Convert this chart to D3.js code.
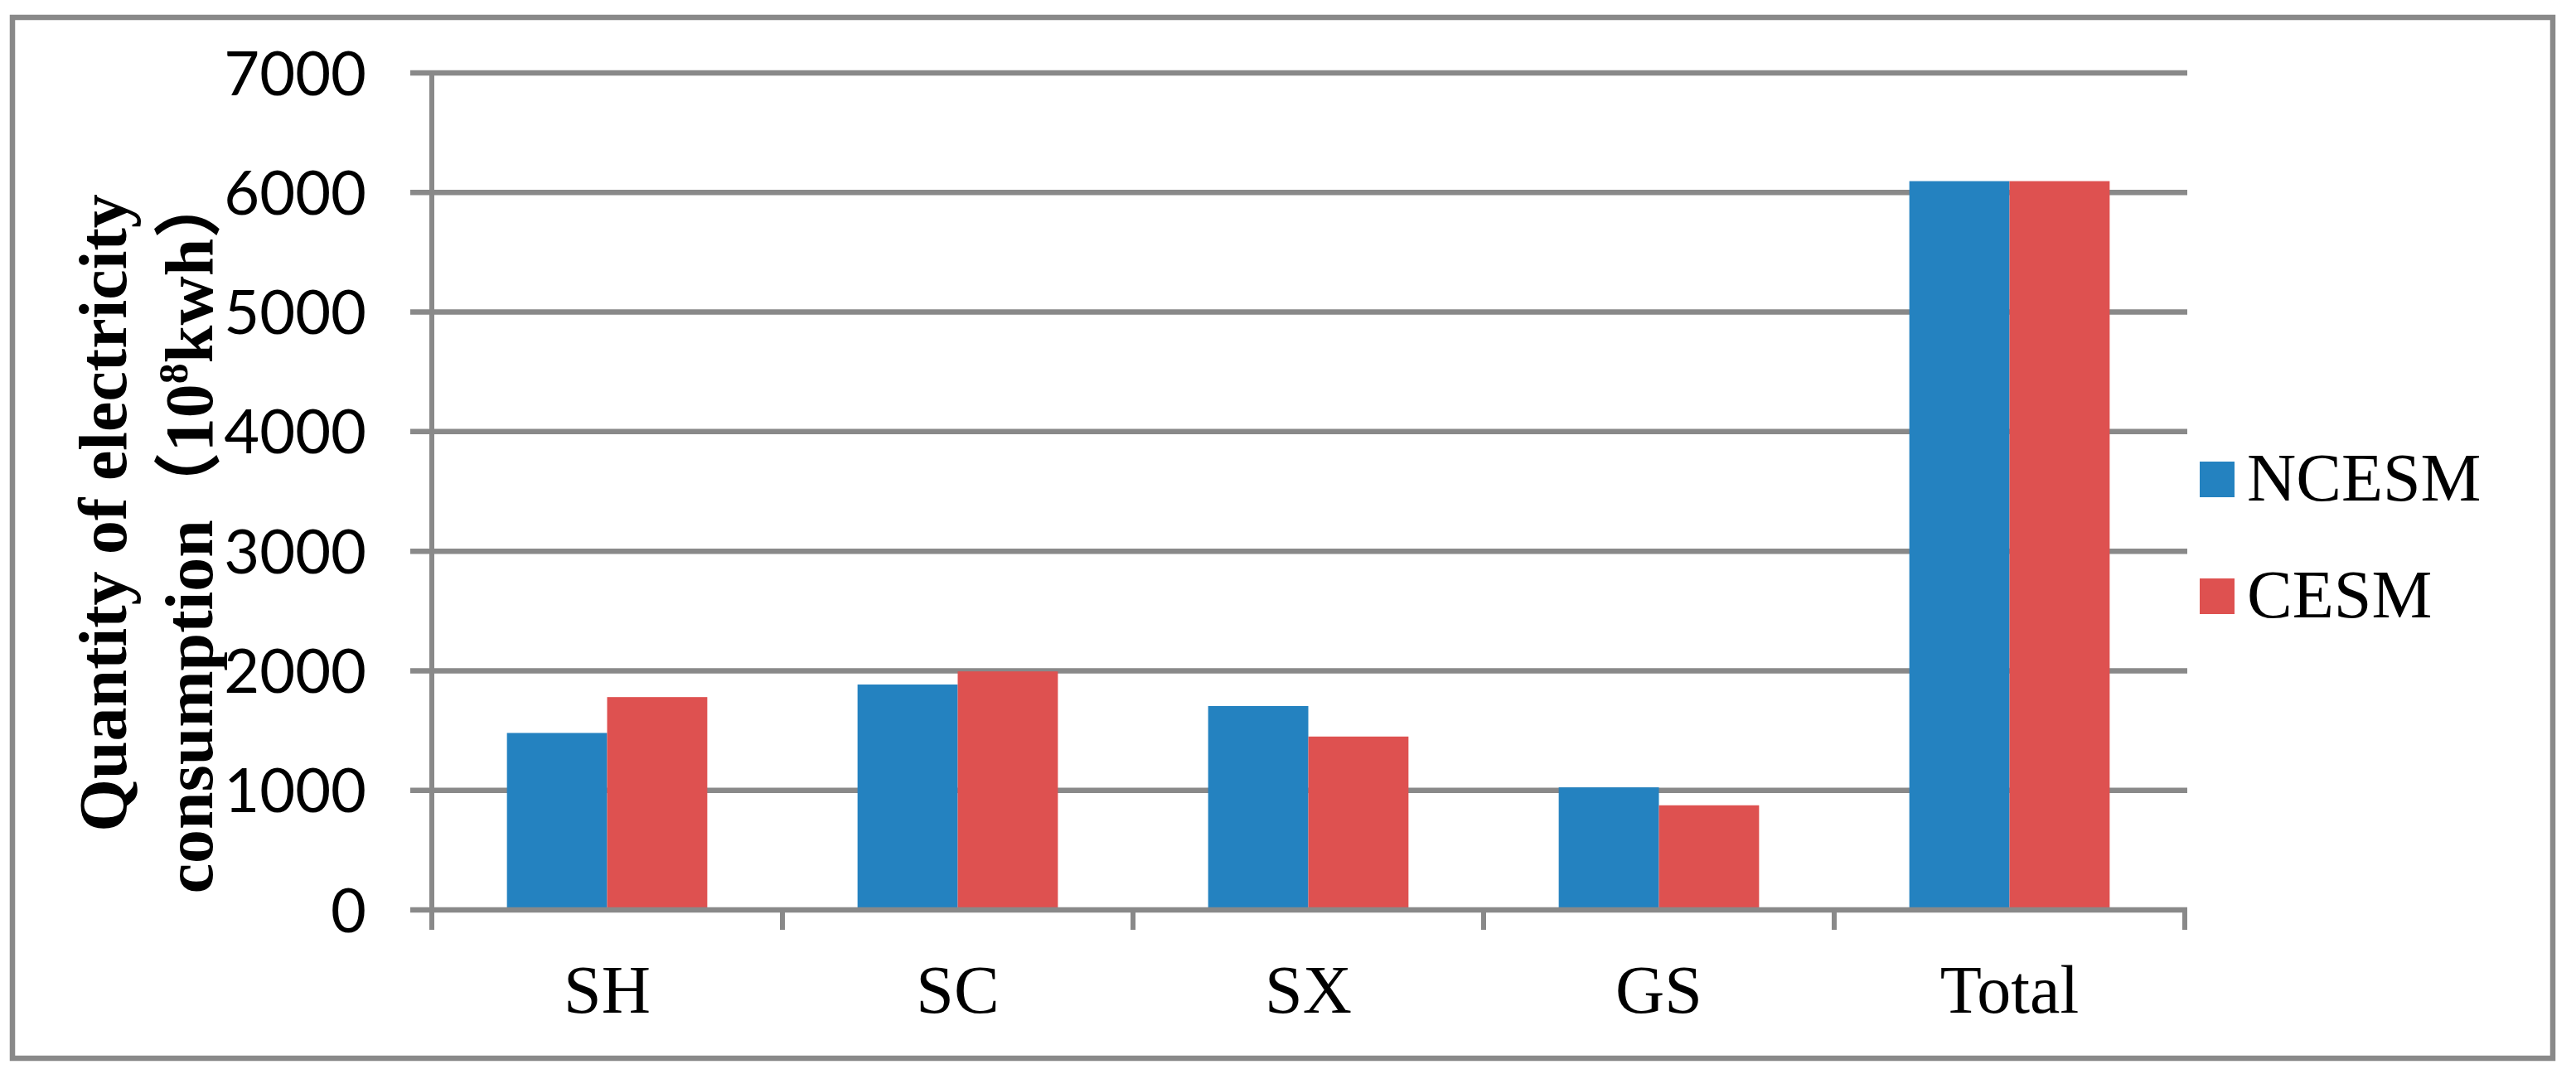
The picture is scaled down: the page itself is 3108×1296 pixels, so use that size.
<!DOCTYPE html>
<html>
<head>
<meta charset="utf-8">
<script src="https://cdn.jsdelivr.net/npm/d3@7"></script>
<style>
  html, body { margin: 0; padding: 0; background: #ffffff; }
  svg { display: block; }
</style>
</head>
<body>
<svg id="chart" width="3108" height="1296"></svg>
<script>
// ---- data ----
const categories = ["SH", "SC", "SX", "GS", "Total"];
const seriesNames = ["NCESM", "CESM"];
const ncesmValues = [1480, 1885, 1705, 1025, 6095];
const cesmValues = [1780, 1995, 1450, 875, 6095];
const yTickValues = [0, 1000, 2000, 3000, 4000, 5000, 6000, 7000];
const yTitleLine1 = "Quantity of electricity";
const yTitleLine2 = ["consumption（10", "8", "kwh）"];

// ---- styling ----
const colors = { NCESM: "#2482C0", CESM: "#DE5150" };
const gray = "#898989";
const serif = "'Liberation Serif', 'Times New Roman', 'Noto Sans CJK SC', serif";
const sans = "Lato, 'Open Sans', sans-serif";

const svg = d3.select("#chart");
svg.append("rect").attr("width", 3108).attr("height", 1296).attr("fill", "#fff");

// outer frame
svg.append("rect")
  .attr("x", 15).attr("y", 21).attr("width", 3065).attr("height", 1256)
  .attr("fill", "none").attr("stroke", gray).attr("stroke-width", 6.5);

const plot = { left: 521, right: 2636, top: 88, bottom: 1098 };

const y = d3.scaleLinear().domain([0, 7000]).range([plot.bottom, plot.top]);
const x0 = d3.scaleBand().domain(categories).range([plot.left, plot.right]).padding(0);
const x1 = d3.scaleBand().domain(seriesNames).range([0, x0.bandwidth()])
  .paddingInner(0).paddingOuter(0.75);

// gridlines (extend left as outward ticks)
svg.append("g").selectAll("line").data(yTickValues.filter(d => d > 0)).join("line")
  .attr("x1", plot.left - 26).attr("x2", plot.right + 3)
  .attr("y1", d => y(d)).attr("y2", d => y(d))
  .attr("stroke", gray).attr("stroke-width", 6.5);

// bars
const rows = categories.map((c, i) => ({ cat: c, NCESM: ncesmValues[i], CESM: cesmValues[i] }));
const groups = svg.append("g").selectAll("g").data(rows).join("g")
  .attr("transform", d => `translate(${x0(d.cat)},0)`);
groups.selectAll("rect").data(d => seriesNames.map(s => ({ s, v: d[s] }))).join("rect")
  .attr("x", d => x1(d.s))
  .attr("width", x1.bandwidth())
  .attr("y", d => y(d.v))
  .attr("height", d => y(0) - y(d.v))
  .attr("fill", d => colors[d.s]);

// x axis line (zero line) and ticks
svg.append("line")
  .attr("x1", plot.left - 26).attr("x2", plot.right + 3)
  .attr("y1", y(0)).attr("y2", y(0))
  .attr("stroke", gray).attr("stroke-width", 6.5);
const boundaries = categories.map(c => x0(c)).concat([x0.range()[1]]);
svg.append("g").selectAll("line").data(boundaries).join("line")
  .attr("x1", d => d).attr("x2", d => d)
  .attr("y1", y(0)).attr("y2", y(0) + 24)
  .attr("stroke", gray).attr("stroke-width", 6);

// y axis line
svg.append("line")
  .attr("x1", plot.left).attr("x2", plot.left)
  .attr("y1", y(7000) - 3).attr("y2", y(0) + 24)
  .attr("stroke", gray).attr("stroke-width", 6);

// y tick labels via axis
const yAxis = d3.axisLeft(y).tickValues(yTickValues).tickSize(0).tickPadding(79)
  .tickFormat(d3.format("d"));
const yg = svg.append("g").attr("transform", `translate(${plot.left},0)`).call(yAxis);
yg.select(".domain").remove();
yg.selectAll("text")
  .attr("dy", null).attr("y", 26)
  .attr("font-family", sans).attr("font-size", 74).attr("fill", "#000");

// x category labels via axis
const xAxis = d3.axisBottom(x0).tickSize(0).tickPadding(0);
const xg = svg.append("g").attr("transform", `translate(0,0)`).call(xAxis);
xg.select(".domain").remove();
xg.selectAll("text")
  .attr("dy", null).attr("y", 1222)
  .attr("font-family", serif).attr("font-size", 82).attr("fill", "#000");

// y axis title (two lines, bold serif, rotated)
svg.append("text")
  .attr("transform", "translate(152,619) rotate(-90)")
  .attr("text-anchor", "middle")
  .attr("font-family", serif).attr("font-weight", "bold").attr("font-size", 82)
  .attr("fill", "#000")
  .text(yTitleLine1);
const t2 = svg.append("text")
  .attr("transform", "translate(256,642) rotate(-90)")
  .attr("text-anchor", "middle")
  .attr("font-family", serif).attr("font-weight", "bold").attr("font-size", 82)
  .attr("fill", "#000");
t2.append("tspan").text(yTitleLine2[0]);
t2.append("tspan").attr("font-size", 50).attr("dy", -30).text(yTitleLine2[1]);
t2.append("tspan").attr("dy", 30).text(yTitleLine2[2]);

// legend
const legendY = [557, 698];
const lg = svg.append("g").selectAll("g").data(seriesNames).join("g")
  .attr("transform", (d, i) => `translate(2654,${legendY[i]})`);
lg.append("rect").attr("width", 42).attr("height", 43).attr("fill", d => colors[d]);
lg.append("text").attr("x", 57).attr("y", 47)
  .attr("font-family", serif).attr("font-size", 82).attr("fill", "#000")
  .text(d => d);
</script>
</body>
</html>
